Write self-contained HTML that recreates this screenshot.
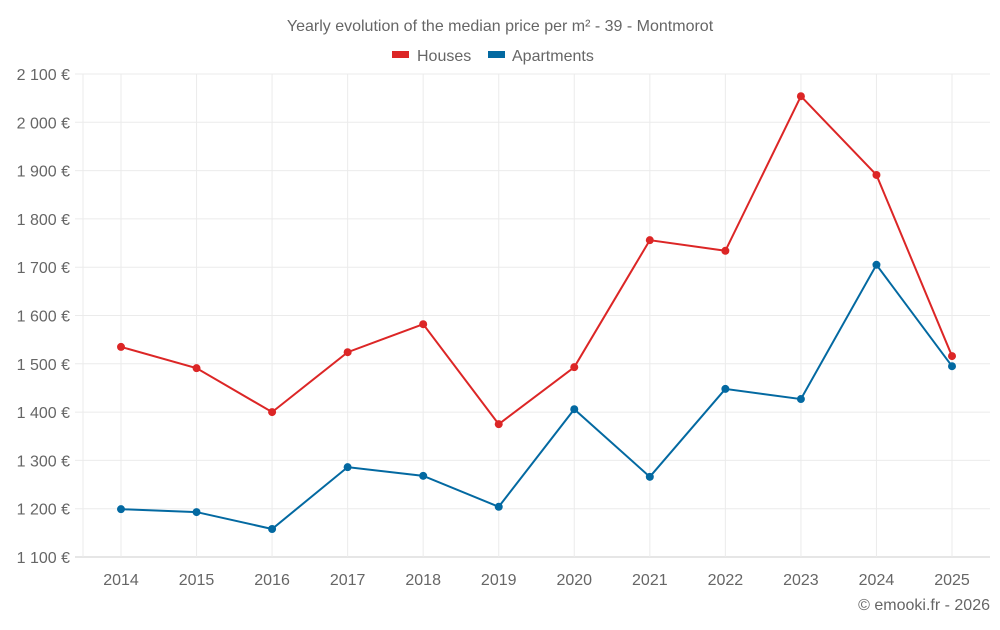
<!DOCTYPE html>
<html><head><meta charset="utf-8"><style>
body{margin:0;background:#fff;font-family:"Liberation Sans",sans-serif}
svg text{font-family:"Liberation Sans",sans-serif;fill:#666}
</style></head><body>
<svg width="1000" height="625">
<text x="500" y="31" text-anchor="middle" font-size="16">Yearly evolution of the median price per m² - 39 - Montmorot</text>
<g><rect x="392" y="51" width="17" height="7" fill="#dc2626"/><text x="417" y="61" font-size="16">Houses</text></g>
<g><rect x="488" y="51" width="17" height="7" fill="#0369a1"/><text x="512" y="61" font-size="16">Apartments</text></g>
<g id="grid"></g><g id="axes"></g><g id="series"></g>
<text x="990" y="610" text-anchor="end" font-size="16">© emooki.fr - 2026</text>
</svg>
<script>
const years=[2014,2015,2016,2017,2018,2019,2020,2021,2022,2023,2024,2025];
const houses=[1535,1491,1400,1524,1582,1375,1493,1756,1734,2054,1891,1516];
const apartments=[1199,1193,1158,1286,1268,1204,1406,1266,1448,1427,1705,1495];
const yTicks=[1100,1200,1300,1400,1500,1600,1700,1800,1900,2000,2100];
const NS="http://www.w3.org/2000/svg";
const L=83,R=990,T=74,B=557;
const x=i=>121+i*(952-121)/(years.length-1);
const y=v=>B-(v-1100)/1000*(B-T);
function mk(t,a,p){const e=document.createElementNS(NS,t);for(const k in a)e.setAttribute(k,a[k]);p.appendChild(e);return e;}
const g=document.getElementById('grid'),ax=document.getElementById('axes'),s=document.getElementById('series');
yTicks.forEach(v=>{
 const l=mk('line',{x1:75,x2:R,y1:y(v),y2:y(v),stroke:v===1100?'#ccc':'#ebebeb'},g);
 
 
 const t=mk('text',{x:70,y:y(v)+6,'text-anchor':'end','font-size':16},ax);
 t.textContent=(v>=1000?Math.floor(v/1000)+' '+String(v%1000).padStart(3,'0'):v)+' €';
 
 
});
const lx=mk('line',{x1:L,x2:L,y1:T,y2:B,stroke:'#ebebeb'},g);


years.forEach((yr,i)=>{
 const l=mk('line',{x1:x(i),x2:x(i),y1:T,y2:B,stroke:'#ebebeb'},g);
 
 
 const t=mk('text',{x:x(i),y:585,'text-anchor':'middle','font-size':16},ax);
 t.textContent=yr;
 
 
});
function series(data,color,name){
 const p=mk('polyline',{points:data.map((v,i)=>x(i)+','+y(v)).join(' '),fill:'none',stroke:color,'stroke-width':2},s);
 
 
 data.forEach((v,i)=>{
  const c=mk('circle',{cx:x(i),cy:y(v),r:4,fill:color},s);
  
  
 });
}
series(houses,'#dc2626','houses');
series(apartments,'#0369a1','apartments');
</script>
</body></html>
